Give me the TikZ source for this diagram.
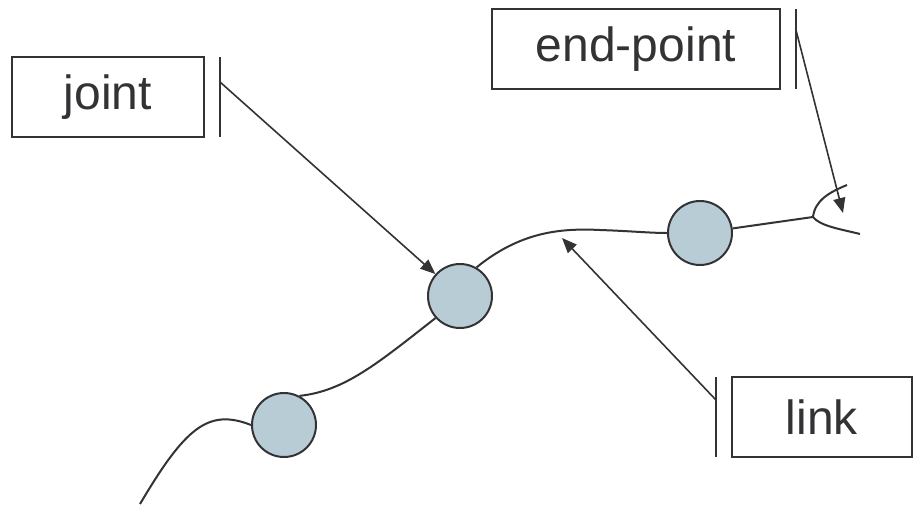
\documentclass[tikz,border=0pt]{standalone}
\usepackage{fontspec}
\setmainfont{Liberation Sans}
\usetikzlibrary{arrows.meta}
\definecolor{ink}{RGB}{51,51,54}
\definecolor{jointfill}{RGB}{184,204,214}
\begin{document}
\begin{tikzpicture}[x=1pt,y=-1pt,
  line width=2pt, draw=ink,
  labelbox/.style={draw=ink, line width=2pt, inner sep=0pt, minimum height=80pt,
    text=ink, font=\fontsize{48}{58}\selectfont},
  jointdisc/.style={circle, draw=ink, fill=jointfill, line width=2pt,
    minimum size=64pt, inner sep=0pt},
  pointer/.style={draw=ink, line width=1.6pt, -{Triangle[length=15pt,width=12pt]}},
  bar/.style={draw=ink, line width=2pt},
  linkcurve/.style={draw=ink, line width=2pt}]
  \useasboundingbox (0,0) rectangle (914,504);

  % label boxes
  \node[labelbox, minimum width=192pt] (jointlbl) at (108,97) {joint};
  \node[labelbox, minimum width=288pt] (endlbl) at (636,49) {end-point};
  \node[labelbox, minimum width=180pt] (linklbl) at (822,417) {link};

  % bars beside the boxes
  \coordinate (jb1) at (220,57);  \coordinate (jb2) at (220,137);
  \coordinate (eb1) at (796,9);   \coordinate (eb2) at (796,89);
  \coordinate (lb1) at (716,377); \coordinate (lb2) at (716,457);
  \draw[bar] (jb1) -- (jb2);
  \draw[bar] (eb1) -- (eb2);
  \draw[bar] (lb1) -- (lb2);

  % joints
  \node[jointdisc] (j1) at (284,425) {};
  \node[jointdisc] (j2) at (460,296) {};
  \node[jointdisc] (j3) at (700,233) {};

  % links between joints
  \coordinate (base) at (140,504);
  \draw[linkcurve] (base) .. controls (185,428) and (208,408) .. (j1.west);
  \draw[linkcurve] (j1.62) .. controls (345,391) and (378,363) .. (j2.222);
  \draw[linkcurve] (j2.60) .. controls (520,232) and (560,228) .. (600,230)
                   .. controls (630,231) and (650,233) .. (j3.west);

  % gripper at the end
  \coordinate (grip) at (813,217);
  \draw[linkcurve] (j3.8) -- (grip);
  \draw[linkcurve] (grip) .. controls (815,200) and (830,192) .. (847,185);
  \draw[linkcurve] (grip) .. controls (820,226) and (840,229) .. (860,234);

  % pointers from the labels
  \coordinate (js) at (220,82);
  \coordinate (es) at (796,30);
  \coordinate (et) at (843,213);
  \coordinate (ls) at (716,400);
  \coordinate (lt) at (562,238);
  \draw[pointer] (js) -- (j2);
  \draw[pointer] (es) -- (et);
  \draw[pointer] (ls) -- (lt);
\end{tikzpicture}
\end{document}
